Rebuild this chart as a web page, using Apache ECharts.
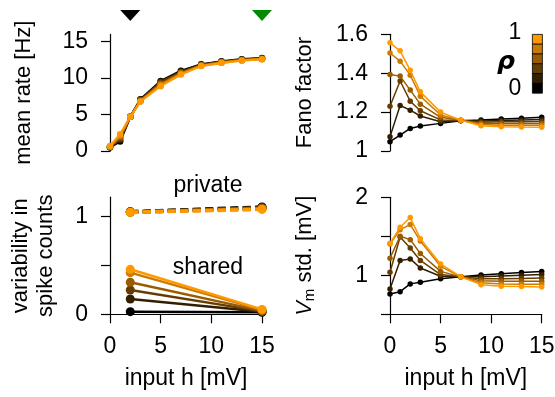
<!DOCTYPE html>
<html>
<head>
<meta charset="utf-8">
<script src="https://cdn.jsdelivr.net/npm/echarts@6/dist/echarts.min.js"></script>
<style>
  html, body { margin: 0; padding: 0; background: #fff; }
  #chart { width: 555px; height: 397px; }
</style>
</head>
<body>
<div id="chart"></div>
<script>
// input h [mV]
const hValues = [0, 1, 2, 3, 5, 7, 9, 11, 13, 15];
const hPair = [2, 15];
const rhoLabels = ['0', '0.2', '0.4', '0.6', '0.8', '1'];
const rhoColors = ['#000000', '#331f00', '#663d00', '#995c00', '#cc7a00', '#ff9900'];

// mean rate [Hz], one row per rho
const rate0 = [0.5, 1.3, 4.7, 7.1, 9.6, 11.0, 11.9, 12.3, 12.6, 12.75];
const rate2 = [0.5, 1.5, 4.7, 7.0, 9.5, 10.9, 11.85, 12.25, 12.55, 12.7];
const rate4 = [0.55, 1.7, 4.7, 7.0, 9.4, 10.8, 11.8, 12.2, 12.5, 12.7];
const rate6 = [0.6, 1.9, 4.7, 6.9, 9.2, 10.7, 11.75, 12.2, 12.5, 12.65];
const rate8 = [0.6, 2.1, 4.7, 6.8, 9.1, 10.6, 11.7, 12.1, 12.45, 12.6];
const rate10 = [0.7, 2.3, 4.7, 6.8, 8.9, 10.5, 11.65, 12.1, 12.4, 12.6];

// Fano factor
const fano0 = [1.048, 1.082, 1.116, 1.128, 1.142, 1.156, 1.160, 1.165, 1.169, 1.173];
const fano2 = [1.073, 1.234, 1.21, 1.18, 1.15, 1.157, 1.154, 1.157, 1.160, 1.162];
const fano4 = [1.23, 1.36, 1.256, 1.207, 1.16, 1.157, 1.148, 1.150, 1.151, 1.152];
const fano6 = [1.393, 1.385, 1.313, 1.241, 1.173, 1.158, 1.142, 1.141, 1.142, 1.142];
const fano8 = [1.504, 1.462, 1.39, 1.282, 1.185, 1.158, 1.136, 1.133, 1.132, 1.132];
const fano10 = [1.556, 1.515, 1.415, 1.304, 1.2, 1.158, 1.13, 1.125, 1.123, 1.122];

// variability in spike counts at h = 2 and h = 15
const private0 = [1.05, 1.10];
const private2 = [1.05, 1.095];
const private4 = [1.048, 1.09];
const private6 = [1.047, 1.085];
const private8 = [1.046, 1.08];
const private10 = [1.045, 1.075];
const shared0 = [0.027, 0.02];
const shared2 = [0.157, 0.025];
const shared4 = [0.249, 0.03];
const shared6 = [0.328, 0.035];
const shared8 = [0.427, 0.045];
const shared10 = [0.461, 0.05];

// Vm std. [mV]
const vm0 = [0.76, 0.79, 0.89, 0.91, 0.957, 0.98, 1.005, 1.02, 1.035, 1.05];
const vm2 = [0.825, 1.19, 1.21, 1.094, 0.987, 0.98, 0.98, 0.99, 1.0, 1.01];
const vm4 = [1.04, 1.49, 1.35, 1.19, 1.01, 0.98, 0.955, 0.955, 0.96, 0.965];
const vm6 = [1.22, 1.5, 1.457, 1.28, 1.05, 0.98, 0.93, 0.925, 0.925, 0.925];
const vm8 = [1.40, 1.585, 1.65, 1.44, 1.115, 0.98, 0.905, 0.89, 0.885, 0.885];
const vm10 = [1.41, 1.615, 1.74, 1.47, 1.145, 0.98, 0.88, 0.86, 0.855, 0.85];

// marked inputs above the rate panel
const markerH = [2, 15];
const markerColors = ['#000000', '#008a00'];

// tick labels
const hTicks = [0, 5, 10, 15];
const rateTicks = [0, 5, 10, 15];
const fanoTicks = [1, 1.2, 1.4, 1.6];
const varTicks = [0, 0.5, 1];
const varLabels = [0, 1];
const vmTicks = [0.5, 1, 1.5, 2];
const vmLabels = [1, 2];

const rateRows = [rate0, rate2, rate4, rate6, rate8, rate10];
const fanoRows = [fano0, fano2, fano4, fano6, fano8, fano10];
const privateRows = [private0, private2, private4, private6, private8, private10];
const sharedRows = [shared0, shared2, shared4, shared6, shared8, shared10];
const vmRows = [vm0, vm2, vm4, vm6, vm8, vm10];

const FONT = 'Liberation Sans';
const FS = 23;   // tick labels and horizontal text
const NS = 22;   // rotated axis names

const zip = (xs, ys) => xs.map((x, i) => [x, ys[i]]);

function yAx(grid, min, max, ticks, labels, name, gap) {
  return {
    type: 'value', gridIndex: grid, min: min, max: max,
    axisLine: { show: true, lineStyle: { color: '#000', width: 1.2 } },
    axisTick: { show: true, inside: false, length: 9, customValues: ticks, lineStyle: { color: '#000', width: 1.2 } },
    axisLabel: { customValues: labels, margin: 22, color: '#000', fontFamily: FONT, fontSize: FS },
    splitLine: { show: false },
    name: name, nameLocation: 'middle', nameGap: gap,
    nameTextStyle: { color: '#000', fontFamily: FONT, fontSize: NS, lineHeight: 25 }
  };
}

function xAx(grid, visible) {
  return {
    type: 'value', gridIndex: grid, min: 0, max: 15, show: visible,
    axisLine: { show: true, onZero: false, lineStyle: { color: '#000', width: 1.2 } },
    axisTick: { show: true, length: 9, customValues: hTicks, lineStyle: { color: '#000', width: 1.2 } },
    axisLabel: { customValues: hTicks, margin: 21, color: '#000', fontFamily: FONT, fontSize: FS },
    splitLine: { show: false },
    name: 'input h [mV]', nameLocation: 'middle', nameGap: 53,
    nameTextStyle: { color: '#000', fontFamily: FONT, fontSize: FS }
  };
}

function lines(grid, xs, rows, opts) {
  return rows.map((row, i) => ({
    type: 'line', xAxisIndex: grid, yAxisIndex: grid,
    data: zip(xs, row),
    symbol: 'circle', symbolSize: opts.size, clip: false, silent: true,
    itemStyle: { color: rhoColors[i] },
    lineStyle: { color: rhoColors[i], width: opts.width, type: opts.type || 'solid' },
    z: 2 + i
  }));
}

const series = [].concat(
  lines(0, hValues, rateRows, { size: 6.5, width: 2.2 }),
  lines(1, hValues, fanoRows, { size: 5.5, width: 1.5 }),
  lines(2, hPair, privateRows, { size: 9, width: 3.5, type: [8, 4.5] }),
  lines(2, hPair, sharedRows, { size: 9, width: 2.5 }),
  lines(3, hValues, vmRows, { size: 5.5, width: 1.5 }),
  [{
    type: 'scatter', xAxisIndex: 0, yAxisIndex: 0, clip: false, silent: true,
    data: markerH.map((h, i) => ({ value: [h, 16], itemStyle: { color: markerColors[i], opacity: 1 } })),
    symbol: 'triangle', symbolRotate: 180, symbolSize: [20, 11], symbolOffset: [0, -19]
  }]
);

// colour bar for rho
const barCells = rhoColors.slice().reverse().map((c, i) => ({
  type: 'rect', shape: { x: 0, y: i * 9.8, width: 10, height: 9.8 },
  style: { fill: c, stroke: '#000', lineWidth: 0.8 }
}));

const chart = echarts.init(document.getElementById('chart'));
chart.setOption({
  animation: false,
  backgroundColor: '#fff',
  grid: [
    { left: 110, top: 34.4, width: 152, height: 116.6, outerBoundsMode: 'none' },
    { left: 390, top: 34.3, width: 151.7, height: 116.7, outerBoundsMode: 'none' },
    { left: 110, top: 197.2, width: 152, height: 117.1, outerBoundsMode: 'none' },
    { left: 390, top: 197.3, width: 151.7, height: 117, outerBoundsMode: 'none' }
  ],
  xAxis: [xAx(0, false), xAx(1, false), xAx(2, true), xAx(3, true)],
  yAxis: [
    yAx(0, 0, 16, rateTicks, rateTicks, 'mean rate [Hz]', 74),
    yAx(1, 1, 1.6, fanoTicks, fanoTicks, 'Fano factor', 73),
    yAx(2, 0, 1.2, varTicks, varLabels, 'variability in\nspike counts', 52),
    Object.assign(yAx(3, 0.5, 2, vmTicks, vmLabels, '{v|V}{s|m} std. [mV]', 73), {
      nameTextStyle: {
        color: '#000', fontFamily: FONT, fontSize: NS,
        rich: {
          v: { fontFamily: FONT, fontSize: NS, fontStyle: 'italic', color: '#000' },
          s: { fontFamily: FONT, fontSize: 15, color: '#000', padding: [10, 0, 0, 0] }
        }
      }
    })
  ],
  series: series,
  graphic: [
    { type: 'group', left: 532, top: 34, children: barCells },
    { type: 'text', x: 515, y: 33, style: { text: '1', font: FS + 'px ' + FONT, fill: '#000', align: 'center', verticalAlign: 'middle' } },
    { type: 'text', x: 515, y: 89, style: { text: '0', font: FS + 'px ' + FONT, fill: '#000', align: 'center', verticalAlign: 'middle' } },
    { type: 'text', x: 506, y: 62, style: { text: 'ρ', font: 'italic bold 25px "DejaVu Sans"', fill: '#000', align: 'center', verticalAlign: 'middle' } },
    { type: 'text', x: 208, y: 186, style: { text: 'private', font: FS + 'px ' + FONT, fill: '#000', align: 'center', verticalAlign: 'middle' } },
    { type: 'text', x: 208, y: 268, style: { text: 'shared', font: FS + 'px ' + FONT, fill: '#000', align: 'center', verticalAlign: 'middle' } }
  ]
});
</script>
</body>
</html>
